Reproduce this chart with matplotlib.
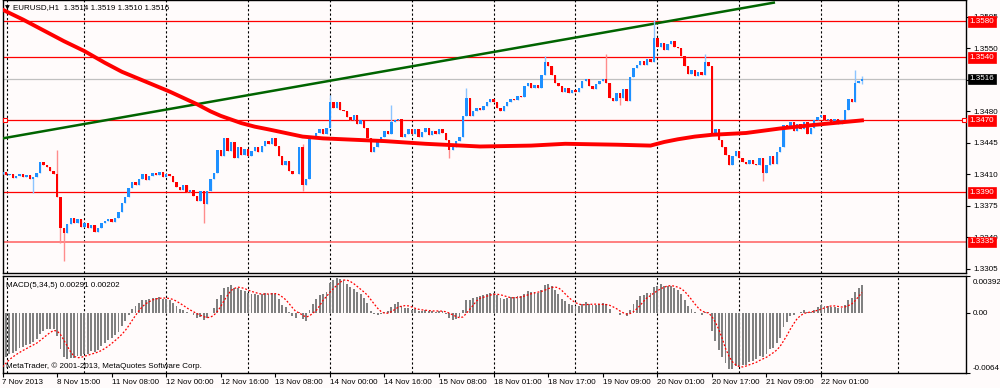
import numpy as np
import matplotlib as mpl
import matplotlib.pyplot as plt
import matplotlib.transforms as mtransforms

mpl.rc("figure", dpi=100)
plt.rcParams.update({
    'font.family': ['Liberation Sans', 'DejaVu Sans'],
    'font.size': 5.8,
})
fs = 5.8

# ---------------------------------------------------------------- data
# hourly closes on the chart, bar 0 = 7 Nov 23:00
closes = [
    1.3413, 1.3409, 1.3411, 1.3406, 1.3408, 1.3410, 1.3407, 1.3409, 1.3405, 1.3407,
    1.3412, 1.3424, 1.3420, 1.3418, 1.3414, 1.3411, 1.3385, 1.3350, 1.3345, 1.3355,
    1.3362, 1.3356, 1.3360, 1.3352, 1.3356, 1.3350, 1.3354, 1.3346, 1.3350, 1.3356,
    1.3358, 1.3360, 1.3357, 1.3362, 1.3368, 1.3378, 1.3385, 1.3395, 1.3402, 1.3398,
    1.3405, 1.3410, 1.3404, 1.3408, 1.3412, 1.3409, 1.3413, 1.3407, 1.3411, 1.3408,
    1.3402, 1.3396, 1.3393, 1.3398, 1.3390, 1.3393, 1.3386, 1.3380, 1.3392, 1.3377,
    1.3392, 1.3405, 1.3412, 1.3437, 1.3430, 1.3450, 1.3436, 1.3446, 1.3428, 1.3440,
    1.3432, 1.3438, 1.3430, 1.3436, 1.3440, 1.3435, 1.3442, 1.3447, 1.3444, 1.3450,
    1.3442, 1.3430, 1.3420, 1.3425, 1.3414, 1.3410, 1.3410, 1.3440, 1.3398, 1.3405,
    1.3452, 1.3450, 1.3456, 1.3460, 1.3455, 1.3462, 1.3490, 1.3484, 1.3490, 1.3482,
    1.3480, 1.3474, 1.3470, 1.3476, 1.3466, 1.3470, 1.3462, 1.3450, 1.3435, 1.3440,
    1.3446, 1.3452, 1.3458, 1.3455, 1.3468, 1.3470, 1.3472, 1.3452, 1.3455, 1.3460,
    1.3455, 1.3460, 1.3452, 1.3457, 1.3461, 1.3454, 1.3458, 1.3455, 1.3460, 1.3456,
    1.3448, 1.3437, 1.3440, 1.3447, 1.3452, 1.3475, 1.3495, 1.3475, 1.3480, 1.3484,
    1.3482, 1.3486, 1.3490, 1.3494, 1.3490, 1.3484, 1.3480, 1.3486, 1.3490, 1.3494,
    1.3493, 1.3497, 1.3496, 1.3508, 1.3512, 1.3506, 1.3509, 1.3506, 1.3520, 1.3535,
    1.3530, 1.3520, 1.3512, 1.3508, 1.3502, 1.3506, 1.3500, 1.3504, 1.3502, 1.3506,
    1.3514, 1.3516, 1.3508, 1.3505, 1.3510, 1.3514, 1.3516, 1.3512, 1.3495, 1.3492,
    1.3500, 1.3495, 1.3505, 1.3492, 1.3518, 1.3528, 1.3532, 1.3536, 1.3532, 1.3538,
    1.3535, 1.3562, 1.3552, 1.3556, 1.3548, 1.3555, 1.3558, 1.3552, 1.3550, 1.3542,
    1.3530, 1.3522, 1.3526, 1.3519, 1.3524, 1.3520, 1.3535, 1.3530, 1.3456, 1.3460,
    1.3448, 1.3440, 1.3432, 1.3420, 1.3430, 1.3436, 1.3428, 1.3424, 1.3422, 1.3426,
    1.3422, 1.3420, 1.3428, 1.3412, 1.3420, 1.3430, 1.3422, 1.3435, 1.3440, 1.3465,
    1.3462, 1.3468, 1.3458, 1.3466, 1.3460, 1.3468, 1.3455, 1.3462, 1.3470, 1.3474,
    1.3476, 1.3470, 1.3472, 1.3468, 1.3471, 1.3466, 1.3470, 1.3482, 1.3494, 1.3490,
    1.3512, 1.3514, 1.3516,
]
# closes before the visible window (7 Nov, ECB cut), only used to warm up the MACD
pre_closes = [
    1.3505, 1.3508, 1.3510, 1.3506, 1.3509, 1.3512, 1.3508, 1.3505, 1.3507, 1.3510,
    1.3512, 1.3509, 1.3506, 1.3508, 1.3511, 1.3507, 1.3505, 1.3508, 1.3510, 1.3506,
    1.3509, 1.3512, 1.3510, 1.3508, 1.3505, 1.3508, 1.3510, 1.3390, 1.3360, 1.3375,
    1.3395, 1.3400, 1.3410, 1.3405, 1.3415, 1.3410,
]
# wicks that stick out of the bodies
high_wicks = {16: 1.3437, 88: 1.3444, 96: 1.3498, 114: 1.3487, 136: 1.3506,
              159: 1.3541, 177: 1.3544, 191: 1.3581, 206: 1.3544, 250: 1.3526, 252: 1.3519}
low_wicks = {9: 1.3389, 17: 1.3334, 18: 1.3314, 59: 1.3356, 88: 1.3392,
             131: 1.3428, 181: 1.3487, 223: 1.3403, 252: 1.3510}

# thick red moving average
ma_bars = [0, 6, 12, 18, 24, 30, 35, 42, 49, 53, 57, 61, 64, 67, 70, 74, 78, 83, 88,
           94, 100, 112, 124, 140, 155, 165, 180, 190, 194, 198, 203, 208, 218, 228, 238, 252]
ma_vals = [1.3593, 1.3582, 1.3570, 1.3558, 1.3547, 1.3534, 1.3524, 1.3513, 1.3502,
           1.3495, 1.3488, 1.3480, 1.3475, 1.3471, 1.3467, 1.3463, 1.3460, 1.3456, 1.3452,
           1.3450, 1.3449, 1.3447, 1.3444, 1.3441, 1.3442, 1.3444, 1.3443, 1.3442, 1.3446,
           1.3449, 1.3452, 1.3454, 1.3456, 1.3461, 1.3465, 1.3470]

# green trend line
trend_bars = [0, 226.5]
trend_vals = [1.3450, 1.3601]

# horizontal lines
hlines = [1.3580, 1.3540, 1.3470, 1.3390, 1.3335]
bid = 1.3516
price_ticks = [1.3585, 1.3550, 1.3515, 1.3480, 1.3445, 1.3410, 1.3375, 1.3340, 1.3305]

time_labels = ["7 Nov 2013", "8 Nov 15:00", "11 Nov 08:00", "12 Nov 00:00", "12 Nov 16:00",
               "13 Nov 08:00", "14 Nov 00:00", "14 Nov 16:00", "15 Nov 08:00", "18 Nov 01:00",
               "18 Nov 17:00", "19 Nov 09:00", "20 Nov 01:00", "20 Nov 17:00", "21 Nov 09:00",
               "22 Nov 01:00"]

macd_fast, macd_slow, macd_sig = 5, 34, 5

# ---------------------------------------------------------------- derived
closes = np.array(closes)
opens = np.r_[pre_closes[-1], closes[:-1]]
highs = np.maximum(opens, closes)
lows = np.minimum(opens, closes)
for k, v in high_wicks.items():
    highs[k] = v
for k, v in low_wicks.items():
    lows[k] = v
idx = np.arange(len(closes))
up = closes >= opens


def ema(a, n):
    k = 2.0 / (n + 1)
    out = np.empty_like(a)
    out[0] = a[0]
    for j in range(1, len(a)):
        out[j] = a[j] * k + out[j - 1] * (1 - k)
    return out


allc = np.r_[pre_closes, closes]
macd_all = ema(allc, macd_fast) - ema(allc, macd_slow)
sig_all = np.convolve(macd_all, np.ones(macd_sig) / macd_sig, mode='full')[:len(macd_all)]
macd = macd_all[len(pre_closes):]
signal = sig_all[len(pre_closes):]

# ---------------------------------------------------------------- figure
bg = '#fffbfb'
fig = plt.figure(figsize=(10, 3.88), facecolor=bg)
W, H = 1000., 388.
ax = fig.add_axes([2.5 / W, 1 - 273 / H, 963.5 / W, 273 / H], facecolor=bg)
axm = fig.add_axes([2.5 / W, 1 - 373 / H, 963.5 / W, 97 / H], facecolor=bg)

xlim = (0.0, 282.5)
grid_bars = [1.3] + list(range(24, 241, 24)) + [262.6]

# main chart
ax.set_xlim(*xlim)
ax.set_ylim(1.33005, 1.36037)
for g in grid_bars:
    ax.axvline(g, color='black', lw=0.8, ls=(0, (2, 2)), zorder=1)

for h in hlines:
    c = '#ff6a6a' if h == hlines[-1] else 'red'
    ax.axhline(h, color=c, lw=1.2 if h == hlines[-1] else 0.9, zorder=2)
ax.axhline(bid, color='#c0c0c0', lw=0.9, zorder=2)

ax.plot(trend_bars, trend_vals, color='#006400', lw=1.8, zorder=3, solid_capstyle='butt')
ax.plot(ma_bars, ma_vals, color='red', lw=2.8, zorder=5)

bull, bear = '#1e90ff', '#ff0000'
colors = np.where(up, bull, bear)
wick_colors = np.where(up, '#8cc4ff', '#ff8c8c')
ax.vlines(idx, lows, highs, colors=wick_colors, lw=1.0, zorder=4)
body_h = np.maximum(np.abs(closes - opens), 0.00008)
ax.bar(idx, body_h, bottom=np.minimum(opens, closes), width=0.7, color=colors,
       linewidth=0, zorder=4.5)

# selected line markers
ax.plot([0.6, 281.9], [hlines[2], hlines[2]], ls='none', marker='s', ms=3.5,
        mfc='white', mec='red', mew=0.8, zorder=6, clip_on=False)

ax.yaxis.tick_right()
ax.set_yticks(price_ticks)
# 1.3515 sits fully under the bid box
ax.set_yticklabels(['' if p == 1.3515 else f'{p:.4f}' for p in price_ticks])
ax.tick_params(axis='y', length=3, width=0.8, pad=2, labelsize=fs, colors='black')
ax.set_xticks([])
for s in ax.spines.values():
    s.set_color('black')
    s.set_linewidth(1.0)

# price boxes on the right scale
box_tr = mtransforms.blended_transform_factory(ax.transAxes, ax.transData)
for h in hlines:
    ax.text(1.0035, h, f'{h:.4f}', transform=box_tr, ha='left', va='center', color='white',
            fontsize=fs, zorder=10, clip_on=False,
            bbox=dict(boxstyle='square,pad=0.22', fc='red', ec='red', lw=0.5))
ax.text(1.0035, bid, f'{bid:.4f}', transform=box_tr, ha='left', va='center', color='white',
        fontsize=fs, zorder=10, clip_on=False,
        bbox=dict(boxstyle='square,pad=0.22', fc='black', ec='black', lw=0.5))

fig.text(5 / W, 1 - 8 / H, '▼', fontsize=4.5, va='center', ha='left',
         family=['DejaVu Sans'])
fig.text(13 / W, 1 - 8 / H, 'EURUSD,H1  1.3514 1.3519 1.3510 1.3516', fontsize=fs,
         va='center', ha='left')

# MACD window
axm.set_xlim(*xlim)
axm.set_ylim(-0.0064, 0.00392)
for g in grid_bars:
    axm.axvline(g, color='black', lw=0.8, ls=(0, (2, 2)), zorder=1)
axm.bar(idx, macd, width=0.55, color='#808080', linewidth=0, zorder=3)
axm.plot(idx, signal, color='red', lw=0.9, ls=(0, (1.5, 1.5)), zorder=4)

axm.yaxis.tick_right()
axm.set_yticks([0.00392, 0.0, -0.0064])
axm.set_yticklabels(['0.00392', '0.00', '-0.0064'])
axm.tick_params(axis='y', length=3, width=0.8, pad=2, labelsize=fs)
labs = axm.get_yticklabels()
labs[0].set_transform(labs[0].get_transform() + mtransforms.ScaledTranslation(0, -6 / 100, fig.dpi_scale_trans))
labs[2].set_transform(labs[2].get_transform() + mtransforms.ScaledTranslation(0, 6 / 100, fig.dpi_scale_trans))

axm.set_xticks(np.arange(len(time_labels)) * 16)
axm.set_xticklabels(time_labels)
for t in axm.get_xticklabels():
    t.set_ha('left')
axm.tick_params(axis='x', length=3, width=0.8, pad=1, labelsize=fs)
for s in axm.spines.values():
    s.set_color('black')
    s.set_linewidth(1.0)

axm.text(0.004, 0.9, f'MACD({macd_fast},{macd_slow},{macd_sig}) 0.00291 0.00202',
         transform=axm.transAxes, fontsize=fs, va='center', ha='left')
axm.text(0.004, 0.07, 'MetaTrader, © 2001-2013, MetaQuotes Software Corp.',
         transform=axm.transAxes, fontsize=fs, va='center', ha='left')

fig.savefig('out.png', dpi=100, facecolor=bg)
